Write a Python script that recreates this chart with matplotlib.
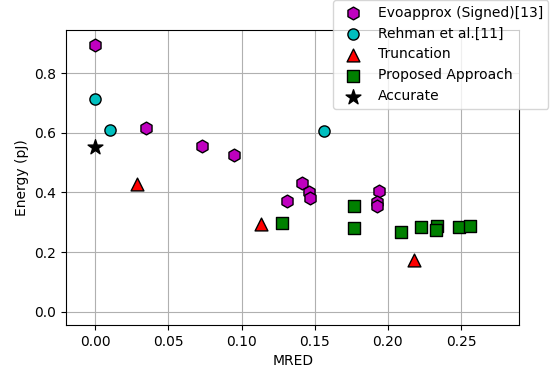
import matplotlib
matplotlib.use("Agg")
import matplotlib.pyplot as plt

# MRED vs energy for each multiplier family
evo_mred = [0.0, 0.035, 0.0728, 0.0947, 0.1416, 0.1458, 0.1467, 0.1314, 0.1938, 0.1927, 0.1927]
evo_energy = [0.893, 0.617, 0.555, 0.525, 0.432, 0.400, 0.382, 0.371, 0.406, 0.369, 0.355]

rehman_mred = [0.0, 0.0098, 0.1562]
rehman_energy = [0.712, 0.608, 0.606]

trunc_mred = [0.0285, 0.1131, 0.2178]
trunc_energy = [0.428, 0.295, 0.172]

prop_mred = [0.1275, 0.177, 0.177, 0.2087, 0.223, 0.2337, 0.2326, 0.2488, 0.256]
prop_energy = [0.297, 0.356, 0.281, 0.268, 0.283, 0.287, 0.273, 0.283, 0.286]

acc_mred = [0.0]
acc_energy = [0.552]

plt.rcParams['font.size'] = 10

fig = plt.figure(figsize=(5.55, 3.69), dpi=100)
ax = fig.add_axes([0.119, 0.119, 0.817, 0.8])

ax.scatter(evo_mred, evo_energy, marker='h', s=85, c='m', edgecolors='k', zorder=3,
           label='Evoapprox (Signed)[13]')
ax.scatter(rehman_mred, rehman_energy, marker='o', s=65, c='c', edgecolors='k', zorder=3,
           label='Rehman et al.[11]')
ax.scatter(trunc_mred, trunc_energy, marker='^', s=85, c='r', edgecolors='k', zorder=3,
           label='Truncation')
ax.scatter(prop_mred, prop_energy, marker='s', s=85, c='g', edgecolors='k', zorder=3,
           label='Proposed Approach')
ax.scatter(acc_mred, acc_energy, marker='*', s=125, c='k', edgecolors='k', zorder=3,
           label='Accurate')

ax.set_xlim(-0.02, 0.29)
ax.set_ylim(-0.045, 0.945)
ax.set_xticks([0.0, 0.05, 0.10, 0.15, 0.20, 0.25])
ax.set_yticks([0.0, 0.2, 0.4, 0.6, 0.8])
ax.set_xlabel('MRED')
ax.set_ylabel('Energy (pJ)')
ax.grid(True)
ax.set_axisbelow(True)

ax.legend(loc='upper right', bbox_to_anchor=(0.988, 1.0), bbox_transform=fig.transFigure,
          borderaxespad=0)

fig.savefig('out.png', dpi=100)
